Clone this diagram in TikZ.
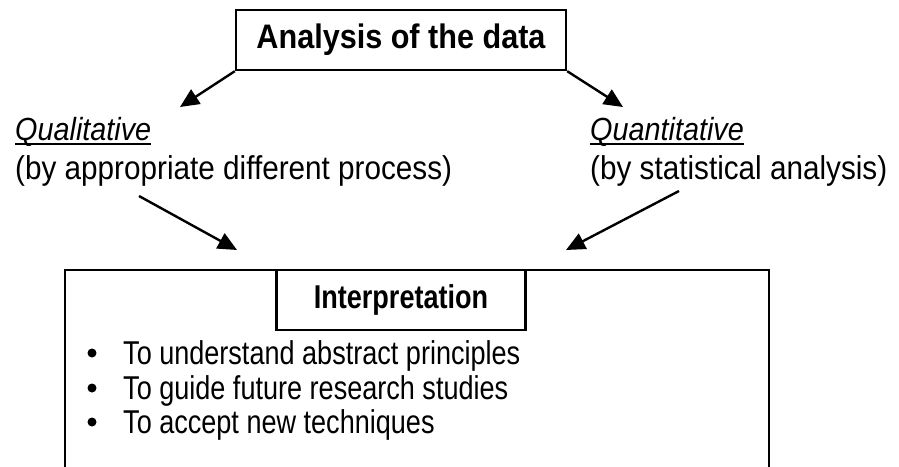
\documentclass[tikz,border=0pt]{standalone}
\usepackage{fontspec}
\setmainfont{Liberation Sans}
% the printed type is set tall and slightly condensed
\newfontfamily\tallsans[FakeStretch=0.9]{Liberation Sans}
\newfontfamily\narrowsans[FakeStretch=0.82]{Liberation Sans}
\usetikzlibrary{arrows.meta,calc}
\tikzset{
  frame/.style={draw, line width=2.4pt},
  heading/.style={font=\tallsans\fontsize{34}{38}\selectfont\bfseries},
  title/.style={font=\tallsans\fontsize{32}{36}\selectfont\itshape, anchor=base west, inner sep=0pt},
  label/.style={font=\tallsans\fontsize{33}{36}\selectfont, anchor=base west, inner sep=0pt},
  item/.style={font=\narrowsans\fontsize{33}{35}\selectfont, anchor=base west, inner sep=0pt},
  dot/.style={circle, fill, inner sep=0pt, minimum size=9pt},
  link/.style={line width=2.4pt, -{Triangle[length=19pt,width=17pt]}},
  rule/.style={line width=1.8pt},
}
\begin{document}
\begin{tikzpicture}[x=1pt, y=-1pt]
  \useasboundingbox (0,0) rectangle (899,466);

  % top box
  \node[frame, heading, minimum width=330pt, minimum height=60pt] (analysis) at (401,40) {Analysis of the data};

  % the two branches
  \node[title] (qual) at (15,140) {Qualitative};
  \node[label] (qualnote) at (15,179) {(by appropriate different process)};
  \node[title] (quan) at (590,140) {Quantitative};
  \node[label] (quannote) at (590,179) {(by statistical analysis)};
  \draw[rule] ($(qual.base west)+(0,4)$) -- ($(qual.base east)+(0,4)$);
  \draw[rule] ($(quan.base west)+(0,4)$) -- ($(quan.base east)+(0,4)$);

  % outer box, open at the bottom edge of the page
  \node[frame, minimum width=704pt, minimum height=240pt, anchor=north west] (outer) at (64,269) {};
  \node[frame, font=\narrowsans\fontsize{33}{35}\selectfont\bfseries,
        minimum width=249pt, minimum height=60pt, anchor=north] (interp) at (401,269) {Interpretation};

  % bullet list
  \node[dot] (b1) at (92,353) {};
  \node[dot] (b2) at (92,388) {};
  \node[dot] (b3) at (92,422) {};
  \node[item] (t1) at (123,364) {To understand abstract principles};
  \node[item] (t2) at (123,399) {To guide future research studies};
  \node[item] (t3) at (123,433) {To accept new techniques};

  % arrow end points
  \coordinate (qualtip) at (180,107);
  \coordinate (quantip) at (623,107);
  \coordinate (qualfoot) at (139,196);
  \coordinate (quanfoot) at (679,191);
  \coordinate (inleft) at (237,250);
  \coordinate (inright) at (566,250);

  \draw[link] (analysis.south west) -- (qualtip);
  \draw[link] (analysis.south east) -- (quantip);
  \draw[link] (qualfoot) -- (inleft);
  \draw[link] (quanfoot) -- (inright);
\end{tikzpicture}
\end{document}
